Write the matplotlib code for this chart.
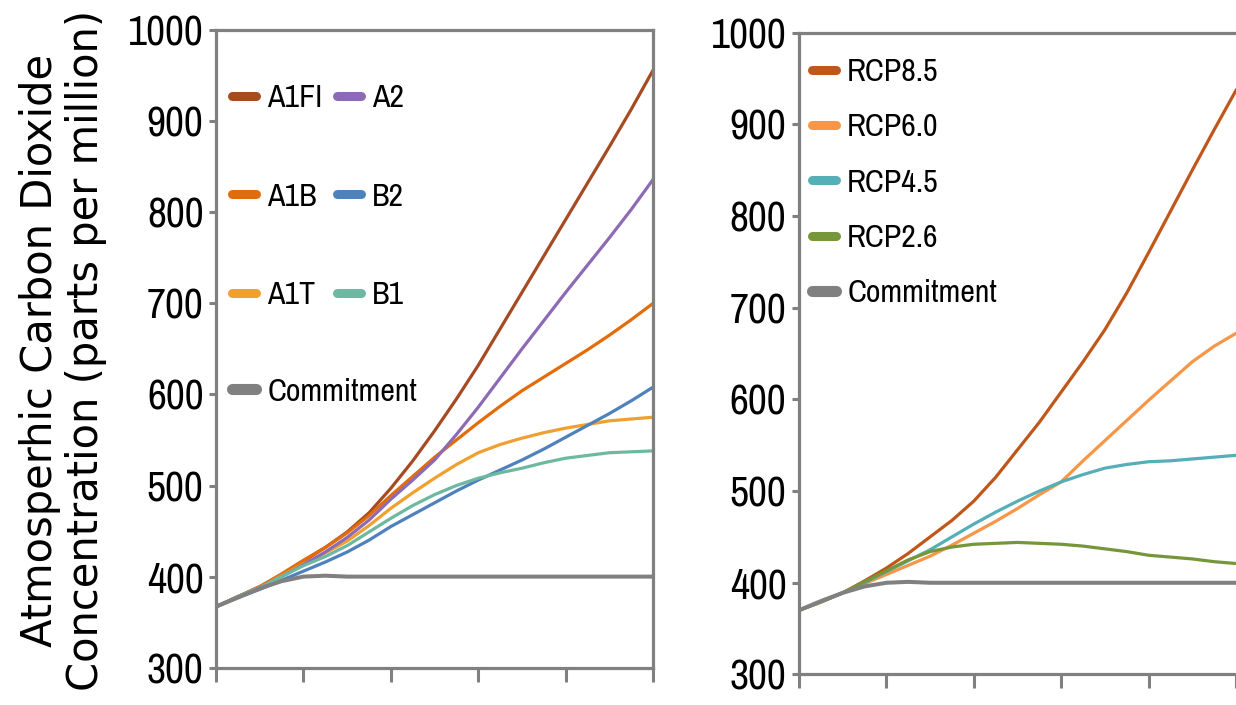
import matplotlib
matplotlib.use("Agg")
import matplotlib.pyplot as plt
from matplotlib.lines import Line2D

# five-year steps, 2000-2100 (x ticks every 20 years, no labels)
years = list(range(2000, 2101, 5))

# SRES scenarios (left panel), ppm
a1fi = [367, 378, 389, 402, 417, 432, 449, 470, 497, 527, 560, 595, 632, 672,
        712, 752, 792, 832, 872, 913, 956]
a2 = [367, 378, 388, 400, 413, 427, 443, 462, 485, 506, 528, 556, 586, 618,
      650, 681, 712, 742, 772, 803, 836]
a1b = [367, 378, 389, 403, 418, 432, 448, 467, 489, 510, 531, 550, 569, 587,
       604, 619, 634, 649, 665, 682, 700]
a1t = [367, 378, 388, 401, 414, 426, 439, 456, 475, 492, 508, 523, 536, 545,
       552, 558, 563, 567, 571, 573, 575]
b2 = [367, 377, 386, 396, 406, 416, 427, 440, 455, 468, 481, 494, 506, 517,
      528, 540, 553, 566, 579, 593, 608]
b1 = [367, 378, 388, 400, 412, 422, 434, 449, 464, 478, 490, 500, 508, 514,
      519, 525, 530, 533, 536, 537, 538]
commit_l = [367, 377, 387, 395, 400, 401, 400, 400, 400, 400, 400, 400, 400,
            400, 400, 400, 400, 400, 400, 400, 400]

# RCP scenarios (right panel), ppm
rcp85 = [370, 379, 389, 402, 416, 432, 450, 468, 489, 515, 545, 575, 608, 641,
         676, 716, 760, 805, 850, 894, 937]
rcp60 = [370, 379, 389, 399, 409, 419, 429, 441, 454, 467, 481, 496, 510, 533,
         555, 577, 599, 620, 641, 658, 672]
rcp45 = [370, 379, 389, 400, 412, 424, 436, 450, 464, 477, 489, 500, 510, 518,
         525, 529, 532, 533, 535, 537, 539]
rcp26 = [370, 379, 389, 401, 413, 425, 434, 439, 442, 443, 444, 443, 442, 440,
         437, 434, 430, 428, 426, 423, 421]
commit_r = [370, 380, 389, 396, 400, 401, 400, 400, 400, 400, 400, 400, 400,
            400, 400, 400, 400, 400, 400, 400, 400]

sres_names = ["A1FI", "A1B", "A1T", "A2", "B2", "B1"]
sres_data = [a1fi, a1b, a1t, a2, b2, b1]
sres_cols = ["#A64A22", "#E36C0A", "#F0A030", "#8D6AB4", "#4F81BD", "#6DB8A0"]

rcp_names = ["RCP8.5", "RCP6.0", "RCP4.5", "RCP2.6"]
rcp_data = [rcp85, rcp60, rcp45, rcp26]
rcp_cols = ["#C0571A", "#F79646", "#56AEB6", "#76963A"]

GRAY = "#808080"
NARROW = ["Arial Narrow", "Liberation Sans Narrow", "Archivo Narrow",
          "Roboto Condensed", "Liberation Sans", "DejaVu Sans"]

fig = plt.figure(figsize=(12.36, 7.05), dpi=100)
ax1 = fig.add_axes([0.1748, 0.0529, 0.3536, 0.9045])
ax2 = fig.add_axes([0.6464, 0.0433, 0.3536, 0.9105])


def style_axes(ax, right_spine=True):
    ax.set_xlim(2000, 2100)
    ax.set_ylim(300, 1000)
    ax.set_xticks(range(2000, 2101, 20))
    ax.set_yticks(range(300, 1001, 100))
    for s in ax.spines.values():
        s.set_color(GRAY)
        s.set_linewidth(2.3)
    ax.spines["right"].set_visible(right_spine)
    ax.tick_params(axis="x", direction="out", length=10, width=2.2, color=GRAY,
                   labelbottom=False)
    ax.tick_params(axis="y", direction="out", length=5, width=2.2, color=GRAY,
                   pad=4, labelsize=30)
    for lab in ax.get_yticklabels():
        lab.set_fontfamily(NARROW)


def legend_handle(c, lw=6.5):
    return Line2D([], [], color=c, lw=lw, solid_capstyle="round")


# left panel
for d, c in zip(sres_data, sres_cols):
    ax1.plot(years, d, color=c, lw=2.3)
ax1.plot(years, commit_l, color=GRAY, lw=2.9, zorder=3)
style_axes(ax1)

leg_font = {"family": NARROW, "size": 23}
h1 = [legend_handle(c) for c in sres_cols]
leg1 = ax1.legend(h1, sres_names, ncol=2, loc="upper left",
                  bbox_to_anchor=(0.037, 0.915), frameon=False, prop=leg_font,
                  handlelength=0.75, handletextpad=0.35, labelspacing=2.2,
                  columnspacing=0.45, borderpad=0, borderaxespad=0)
ax1.add_artist(leg1)
ax1.legend([legend_handle(GRAY, 8)], ["Commitment"], loc="upper left",
           bbox_to_anchor=(0.037, 0.455), frameon=False, prop=leg_font,
           handlelength=0.75, handletextpad=0.35, borderpad=0, borderaxespad=0)

# right panel
for d, c in zip(rcp_data, rcp_cols):
    ax2.plot(years, d, color=c, lw=2.3)
ax2.plot(years, commit_r, color=GRAY, lw=2.9, zorder=3)
style_axes(ax2, right_spine=False)

h2 = [legend_handle(c) for c in rcp_cols] + [legend_handle(GRAY, 8)]
ax2.legend(h2, rcp_names + ["Commitment"], loc="upper left",
           bbox_to_anchor=(0.030, 0.96), frameon=False, prop=leg_font,
           handlelength=0.75, handletextpad=0.35, labelspacing=0.85,
           borderpad=0, borderaxespad=0)

fig.text(0.051, 0.503,
         "Atmosperhic Carbon Dioxide\nConcentration (parts per million)",
         rotation=90, ha="center", va="center", fontsize=30,
         family="DejaVu Sans", linespacing=1.12)

fig.savefig("out.png", dpi=100)
